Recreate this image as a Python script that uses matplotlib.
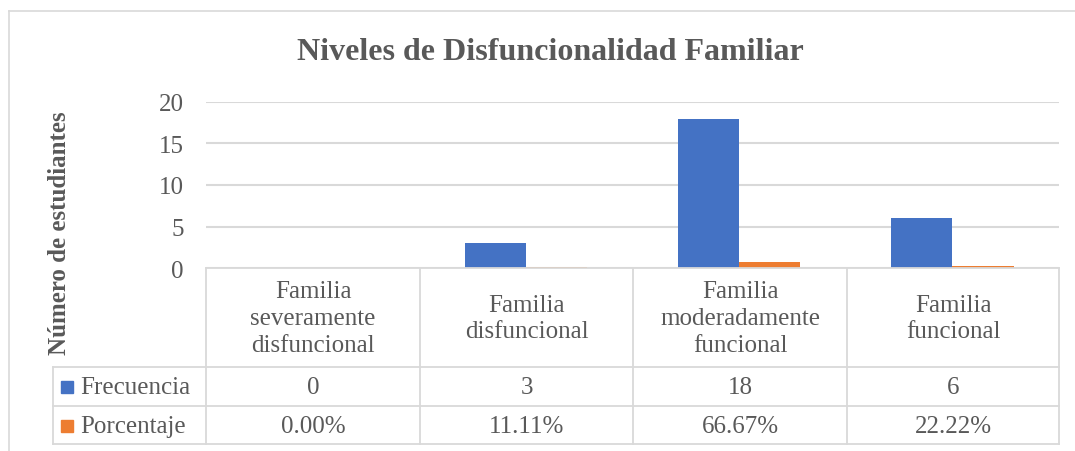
import matplotlib.pyplot as plt
from matplotlib.lines import Line2D
from matplotlib.patches import Rectangle
import numpy as np

categorias = ['Familia\nseveramente\ndisfuncional', 'Familia\ndisfuncional',
              'Familia\nmoderadamente\nfuncional', 'Familia\nfuncional']
frecuencia = [0, 3, 18, 6]
porcentaje = [0.0, 0.1111, 0.6667, 0.2222]
etiquetas_pct = ['0.00%', '11.11%', '66.67%', '22.22%']
series = ['Frecuencia', 'Porcentaje']

azul = '#4472C4'
naranja = '#ED7D31'
gris = '#595959'
linea = '#D9D9D9'

W, H = 1075, 452
plt.rcParams['font.family'] = ['Liberation Serif', 'DejaVu Serif']

fig = plt.figure(figsize=(W / 100, H / 100), dpi=100)


def fx(x):
    return x / W


def fy(y):
    return 1 - y / H


# outer chart border (only top and left visible)
fig.add_artist(Line2D([fx(9), fx(1075)], [fy(12), fy(12)], color=linea, lw=1.2))
fig.add_artist(Line2D([fx(9), fx(9)], [fy(12), fy(452)], color=linea, lw=1.2))

# plot area
x0, x1, ytop, ybot = 206, 1059, 103, 269
ax = fig.add_axes([fx(x0), fy(ybot), fx(x1) - fx(x0), fy(ytop) - fy(ybot)])
x = np.arange(len(frecuencia))
w = 0.287
ax.bar(x - w / 2, frecuencia, w, color=azul)
ax.bar(x + w / 2, porcentaje, w, color=naranja)
ax.set_xlim(-0.5, 3.5)
ax.set_ylim(0, 20)
ax.set_yticks([0, 5, 10, 15, 20])
ax.set_xticks([])
ax.grid(axis='y', color=linea, lw=1.5)
ax.set_axisbelow(True)
for s in ax.spines.values():
    s.set_visible(False)
ax.tick_params(axis='y', length=0, pad=16, labelsize=18, labelcolor=gris)

fig.text(fx(550), fy(53), 'Niveles de Disfuncionalidad Familiar', ha='center', va='center',
         fontsize=23, fontweight='bold', color=gris)
fig.text(fx(59), fy(233), 'Número de estudiantes', ha='center', va='center', rotation=90,
         fontsize=18, fontweight='bold', color=gris)

# data table
cols = [206, 420, 633, 847, 1059]
rows = [269, 368, 407, 445]
lw = 1.3
fig.add_artist(Line2D([fx(206), fx(1059)], [fy(269), fy(269)], color=linea, lw=lw))
for r in rows[1:]:
    fig.add_artist(Line2D([fx(53), fx(1059)], [fy(r), fy(r)], color=linea, lw=lw))
for c in cols:
    fig.add_artist(Line2D([fx(c), fx(c)], [fy(269), fy(445)], color=linea, lw=lw))
fig.add_artist(Line2D([fx(53), fx(53)], [fy(368), fy(445)], color=linea, lw=lw))

for i in range(len(categorias)):
    cx = (cols[i] + cols[i + 1]) / 2
    fig.text(fx(cx), fy(319), categorias[i], ha='center', va='center', fontsize=18,
             color=gris, linespacing=1.28)
    fig.text(fx(cx), fy(388), str(frecuencia[i]), ha='center', va='center', fontsize=18, color=gris)
    fig.text(fx(cx), fy(427), etiquetas_pct[i], ha='center', va='center', fontsize=18, color=gris)

for nombre, col, yc in zip(series, [azul, naranja], [388, 427]):
    fig.add_artist(Rectangle((fx(61), fy(yc + 6)), fx(12), fy(0) - fy(12),
                             transform=fig.transFigure, color=col))
    fig.text(fx(80), fy(yc), nombre, ha='left', va='center', fontsize=18, color=gris)

fig.savefig('out.png', dpi=100)
